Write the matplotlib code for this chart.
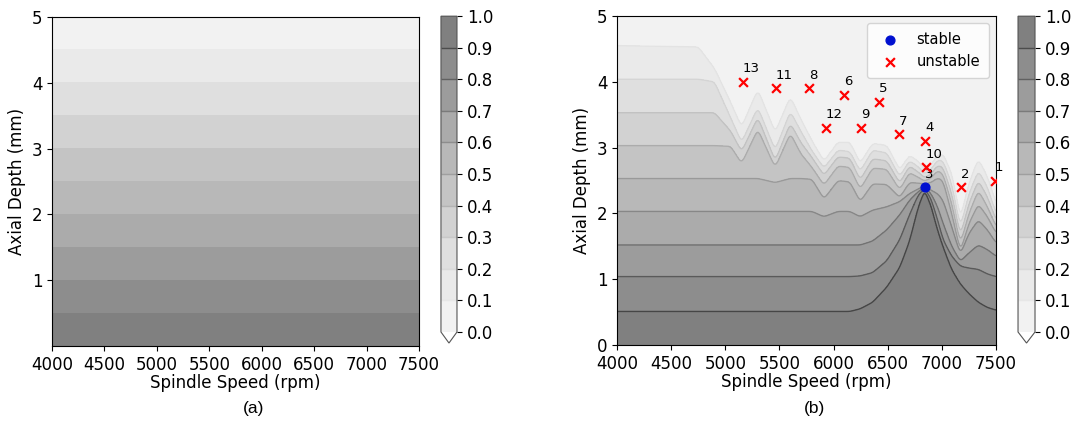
import numpy as np
import matplotlib
matplotlib.use('Agg')
import matplotlib.pyplot as plt
from matplotlib.colors import Normalize, ListedColormap

# Probability levels shown in both maps
levels = np.round(np.arange(0.0, 1.01, 0.1), 1)
line_levels = levels[1:-1]

# (a) prior: probability falls from 1 at zero depth to 0 at 5 mm
prior_depth = [0.0, 5.0]
prior_prob = [1.0, 0.0]

# (b) posterior: depth (mm) of each probability contour at these spindle speeds
speed_knots = [4000, 4750, 4900, 5050, 5150, 5300, 5460, 5600, 5700, 5800,
               5910, 6040, 6150, 6245, 6360, 6490, 6610, 6700, 6780, 6840,
               6900, 6960, 7010, 7090, 7170, 7250, 7336, 7420, 7500]
depth_p90 = [0.51, 0.51, 0.51, 0.51, 0.51, 0.51, 0.51, 0.51, 0.51, 0.51,
             0.51, 0.51, 0.51, 0.55, 0.65, 0.88, 1.18, 1.58, 2.10, 2.36,
             2.12, 1.75, 1.50, 1.15, 0.93, 0.78, 0.65, 0.57, 0.53]
depth_p80 = [1.04, 1.04, 1.04, 1.04, 1.04, 1.04, 1.04, 1.04, 1.04, 1.04,
             1.04, 1.04, 1.04, 1.05, 1.10, 1.28, 1.60, 1.98, 2.28, 2.38,
             2.22, 1.90, 1.60, 1.35, 1.20, 1.17, 1.15, 1.08, 1.04]
depth_p70 = [1.52, 1.52, 1.52, 1.52, 1.52, 1.52, 1.52, 1.52, 1.52, 1.52,
             1.52, 1.52, 1.52, 1.52, 1.58, 1.75, 1.98, 2.20, 2.33, 2.40,
             2.30, 2.10, 1.85, 1.50, 1.27, 1.40, 1.52, 1.45, 1.35]
depth_p60 = [2.03, 2.03, 2.03, 2.03, 2.03, 2.03, 2.03, 2.03, 2.03, 2.03,
             1.95, 2.03, 2.03, 1.95, 2.05, 2.10, 2.18, 2.30, 2.37, 2.42,
             2.35, 2.30, 2.20, 1.80, 1.38, 1.70, 1.90, 1.75, 1.55]
depth_p50 = [2.53, 2.53, 2.53, 2.53, 2.53, 2.53, 2.47, 2.53, 2.53, 2.52,
             2.22, 2.50, 2.48, 2.18, 2.45, 2.44, 2.24, 2.47, 2.46, 2.45,
             2.47, 2.54, 2.50, 2.00, 1.42, 1.85, 2.14, 1.95, 1.70]
depth_p40 = [3.03, 3.03, 3.03, 3.02, 2.76, 3.28, 2.70, 3.22, 2.90, 2.70,
             2.43, 2.72, 2.70, 2.37, 2.69, 2.67, 2.36, 2.62, 2.55, 2.49,
             2.54, 2.65, 2.60, 2.15, 1.54, 2.00, 2.35, 2.10, 1.80]
depth_p30 = [3.53, 3.53, 3.53, 3.25, 2.94, 3.46, 2.80, 3.37, 3.07, 2.85,
             2.58, 2.86, 2.84, 2.51, 2.83, 2.80, 2.46, 2.72, 2.63, 2.54,
             2.60, 2.73, 2.70, 2.30, 1.66, 2.15, 2.50, 2.25, 1.90]
depth_p20 = [4.04, 4.04, 4.00, 3.45, 3.08, 3.61, 2.96, 3.55, 3.24, 2.95,
             2.69, 2.96, 2.94, 2.64, 2.96, 2.92, 2.56, 2.80, 2.71, 2.60,
             2.67, 2.81, 2.80, 2.45, 1.79, 2.30, 2.65, 2.40, 2.00]
depth_p10 = [4.55, 4.53, 4.20, 3.68, 3.31, 3.88, 3.23, 3.77, 3.42, 3.10,
             2.79, 3.08, 3.08, 2.76, 3.06, 3.03, 2.66, 2.88, 2.79, 2.67,
             2.74, 2.88, 2.90, 2.60, 1.92, 2.45, 2.83, 2.55, 2.15]

# test cuts
test_id = [1, 2, 4, 5, 6, 7, 8, 9, 10, 11, 12, 13]
test_speed = [7490, 7180, 6845, 6420, 6095, 6600, 5770, 6250, 6850, 5465, 5925, 5160]
test_depth = [2.5, 2.4, 3.1, 3.7, 3.8, 3.2, 3.9, 3.3, 2.7, 3.9, 3.3, 4.0]
stable_id = [3]
stable_speed = [6845]
stable_depth = [2.4]

plt.rcParams['font.family'] = ['DejaVu Sans']
plt.rcParams['font.size'] = 12

NORM = Normalize(vmin=-0.15, vmax=0.95)
# Greys at half strength over white, as an opaque map (no seams between bands)
_g = plt.get_cmap('Greys')(np.linspace(0, 1, 256))
_g[:, :3] = 0.5 * _g[:, :3] + 0.5
FILL_CMAP = ListedColormap(_g)


def prior_map(speed, depth):
    """Prior probability field, independent of spindle speed."""
    col = np.interp(depth, prior_depth, prior_prob)
    return np.tile(col[:, None], (1, len(speed)))


def posterior_map(speed, depth):
    """Builds the field whose contours pass through the read-off depths."""
    rows = np.array([depth_p90, depth_p80, depth_p70, depth_p60, depth_p50,
                     depth_p40, depth_p30, depth_p20, depth_p10])
    fine = np.array([np.interp(speed, speed_knots, r) for r in rows])
    # light smoothing along speed so the lobes are not polygonal
    k = np.hanning(19)
    k /= k.sum()
    pad = len(k) // 2
    fine = np.array([np.convolve(np.pad(r, pad, mode='edge'), k, mode='valid')
                     for r in fine])
    probs = np.r_[1.0, line_levels[::-1], 0.0]
    z = np.empty((len(depth), len(speed)))
    for j in range(len(speed)):
        z[:, j] = np.interp(depth, np.r_[0.0, fine[:, j], 5.0], probs)
    return z


def draw_map(ax, cax, speed, depth, z, lines=True):
    cf = ax.contourf(speed, depth, z, levels=levels, cmap=FILL_CMAP, norm=NORM,
                     extend='min')
    cbar = plt.colorbar(cf, cax=cax, ticks=levels, extendfrac=0.035)
    if lines:
        cl = ax.contour(speed, depth, z, levels=line_levels, cmap='Greys',
                        norm=NORM, alpha=0.5, linewidths=1.0)
        cbar.add_lines(cl)
    else:
        cols = plt.get_cmap('Greys')(NORM(line_levels), alpha=0.5)
        cbar.add_lines(line_levels, cols, [1.0] * len(line_levels))
    cbar.outline.set_edgecolor('#555555')
    cbar.ax.tick_params(labelsize=12)
    ax.set_xlim(4000, 7500)
    ax.set_ylim(0, 5)
    ax.set_xticks(np.arange(4000, 7501, 500))
    ax.tick_params(labelsize=12)
    ax.set_xlabel('Spindle Speed (rpm)', fontsize=12, labelpad=0)
    ax.set_ylabel('Axial Depth (mm)', fontsize=12)


def main():
    speed = np.arange(4000, 7501, 5)
    depth = np.linspace(0, 5, 501)

    fig = plt.figure(figsize=(10.75, 4.37), dpi=100)
    ax1 = fig.add_axes([0.0484, 0.2082, 0.3414, 0.7529])
    cax1 = fig.add_axes([0.4102, 0.215, 0.0149, 0.748])
    ax2 = fig.add_axes([0.574, 0.2105, 0.3526, 0.7529])
    cax2 = fig.add_axes([0.947, 0.215, 0.0158, 0.748])

    # (a) prior map, lines only shown on its colorbar
    draw_map(ax1, cax1, speed, depth, prior_map(speed, depth), lines=False)
    ax1.set_yticks([1, 2, 3, 4, 5])

    # (b) posterior map with test cuts
    draw_map(ax2, cax2, speed, depth, posterior_map(speed, depth))
    ax2.scatter(stable_speed, stable_depth, c='#0010d0', marker='o', s=40,
                label='stable', zorder=5)
    ax2.scatter(test_speed, test_depth, c='r', marker='x', s=40, linewidths=1.6,
                label='unstable', zorder=5)
    for i, s, d in zip(test_id + stable_id, test_speed + stable_speed,
                       test_depth + stable_depth):
        ax2.text(s, d + 0.1, str(i), fontsize=9.5, ha='left', va='bottom',
                 clip_on=False)
    ax2.legend(loc='upper right', fontsize=10.5, borderpad=0.6)

    fig.text(0.236, 0.055, '(a)', ha='center', fontsize=12.5, family='Liberation Sans')
    fig.text(0.758, 0.055, '(b)', ha='center', fontsize=12.5, family='Liberation Sans')

    fig.savefig('out.png', dpi=100)


if __name__ == '__main__':
    main()
